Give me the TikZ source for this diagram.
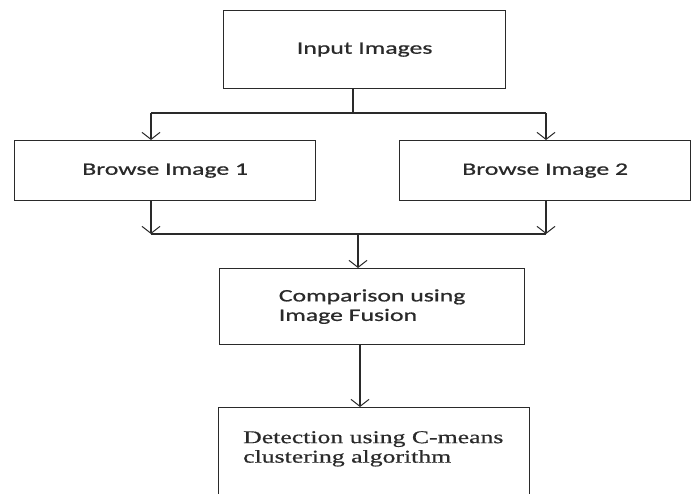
\documentclass[tikz,border=0pt]{standalone}
\usepackage{fontspec}
\setmainfont{Carlito}[FakeStretch=1.47,FakeBold=0.8]
\newfontfamily\detfont{Liberation Serif}[FakeStretch=1.43,FakeBold=0.6]
\usetikzlibrary{arrows.meta}
\definecolor{ink}{HTML}{2A2A2A}
\begin{document}
\begin{tikzpicture}[x=1pt,y=-1pt,
  box/.style={draw=ink,line width=1.3pt,inner sep=0pt,anchor=north west,text=ink,
    font=\fontsize{17.5}{19.5}\selectfont},
  conn/.style={draw=ink,line width=1.3pt},
  arr/.style={conn,-{Straight Barb[length=7pt,width=18pt,line width=1pt]}}]
\useasboundingbox (0,0) rectangle (691,493);
\clip (0,0) rectangle (691,493);
% boxes
\node[box,minimum width=282pt,minimum height=78pt] (in) at (223,10) {\raisebox{3pt}{Input Images}};
\node[box,minimum width=301pt,minimum height=60pt] (b1) at (14,140) {\raisebox{2pt}{Browse Image 1}};
\node[box,minimum width=291pt,minimum height=60pt] (b2) at (399,140) {\raisebox{2pt}{Browse Image 2}};
\node[box,minimum width=305pt,minimum height=76pt,align=left] (cmp) at (219,268) {Comparison using\\Image Fusion};
\node[box,minimum width=311pt,minimum height=110pt] (det) at (218,407) {};
\node[anchor=north west,inner sep=0pt,align=left,text=ink,
  font=\detfont\fontsize{18}{19.5}\selectfont] (dettext) at (243,431) {Detection using C-means\\clustering algorithm};
% junction coordinates
\coordinate (j1) at (353,113);
\coordinate (jl) at (151,113);
\coordinate (jr) at (546,113);
\coordinate (j2) at (358,234);
\coordinate (kl) at (151,234);
\coordinate (kr) at (546,234);
\coordinate (c3) at (360,344);
% connectors
\draw[conn] (in.south -| j1) -- (j1);
\draw[conn] (jl) -- (jr);
\draw[arr] (jl) -- (b1.north -| jl);
\draw[arr] (jr) -- (b2.north -| jr);
\draw[arr] (b1.south -| kl) -- (kl);
\draw[arr] (b2.south -| kr) -- (kr);
\draw[conn] (kl) -- (kr);
\draw[arr] (j2) -- (cmp.north -| j2);
\draw[arr] (cmp.south -| c3) -- (det.north -| c3);
\end{tikzpicture}
\end{document}
